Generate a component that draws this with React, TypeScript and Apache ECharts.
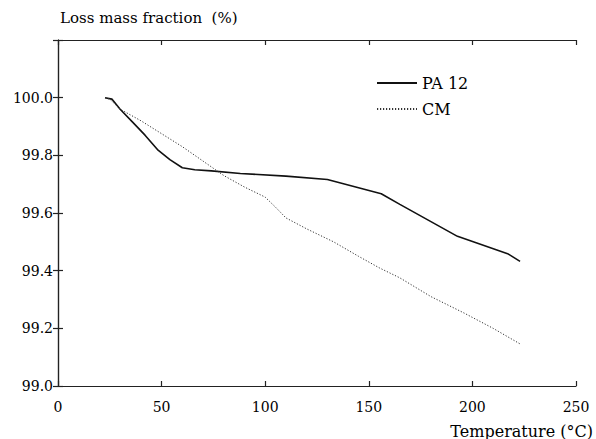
import React, { useEffect, useRef } from "react";
import * as echarts from "echarts";

const pa12: [number, number][] = [
  [22.7, 100.0], [26, 99.995], [30, 99.96], [36, 99.915], [42, 99.87], [48, 99.82],
  [54, 99.785], [60, 99.757], [66, 99.75], [74, 99.746], [88, 99.737], [110, 99.728],
  [130, 99.716], [156, 99.667], [165, 99.63], [192.8, 99.519], [217, 99.459], [223, 99.432],
];
const cm: [number, number][] = [
  [22.7, 100.0], [25, 99.995], [30, 99.96], [40, 99.92], [50, 99.875], [60, 99.83],
  [70, 99.78], [80, 99.73], [90, 99.69], [100, 99.655], [105, 99.62], [110, 99.583],
  [120, 99.545], [133, 99.5], [145, 99.45], [155, 99.41], [165, 99.375], [180, 99.31],
  [196, 99.253], [210, 99.2], [223, 99.146],
];
const seriesNames = ["PA 12", "CM"];
const yTitle = "Loss mass fraction  (%)";
const xTitle = "Temperature (°C)";

const FONT = "DejaVu Serif";

export default function App() {
  const ref = useRef<HTMLDivElement>(null);
  useEffect(() => {
    if (!ref.current) return;
    const chart = echarts.init(ref.current, undefined, { renderer: "svg" });
    const axisLine = { show: true, lineStyle: { color: "#222", width: 1.2 } };
    const tick = { show: true, inside: true, length: 5, lineStyle: { color: "#222", width: 1.2 } };
    chart.setOption({
      animation: false,
      textStyle: { fontFamily: FONT },
      grid: { left: 58, top: 40, right: 20, bottom: 53 },
      legend: {
        orient: "vertical",
        left: 371,
        top: 70,
        itemWidth: 40,
        itemHeight: 14,
        itemGap: 10,
        itemStyle: { opacity: 0 },
        textStyle: { fontFamily: FONT, fontSize: 16, color: "#000" },
        data: seriesNames,
      },
      graphic: [
        { type: "text", left: 60, top: 10, style: { text: yTitle, fontFamily: FONT, fontSize: 15, fill: "#000" } },
        { type: "text", right: 3, top: 423, style: { text: xTitle, fontFamily: FONT, fontSize: 16, fill: "#000" } },
      ],
      xAxis: [
        {
          type: "value", min: 0, max: 250, interval: 50,
          axisLine, axisTick: tick, splitLine: { show: false },
          axisLabel: { margin: 14, fontFamily: FONT, fontSize: 14, color: "#000" },
        },
        {
          type: "value", position: "top", min: 0, max: 250, interval: 50,
          axisLine, axisTick: tick, splitLine: { show: false }, axisLabel: { show: false },
        },
      ],
      yAxis: [
        {
          type: "value", min: 99, max: 100.2, interval: 0.2,
          axisLine, axisTick: tick, splitLine: { show: false },
          axisLabel: {
            margin: 5, fontFamily: FONT, fontSize: 14, color: "#000",
            formatter: (v: number) => (v > 100.1 ? "" : v.toFixed(1)),
          },
        },
        {
          type: "value", position: "right", min: 99, max: 100.2, interval: 0.2,
          axisLine, axisTick: tick, splitLine: { show: false }, axisLabel: { show: false },
        },
      ],
      series: [
        {
          name: seriesNames[0], type: "line", data: pa12, symbol: "none",
          lineStyle: { color: "#111", width: 1.6, type: "solid" }, itemStyle: { color: "#111" },
        },
        {
          name: seriesNames[1], type: "line", data: cm, symbol: "none",
          lineStyle: { color: "#333", width: 1, type: [1.2, 1.8] }, itemStyle: { color: "#333" },
        },
      ],
    });
    return () => chart.dispose();
  }, []);
  return <div ref={ref} style={{ width: 596, height: 439, position: "absolute", left: 0, top: 0 }} />;
}
